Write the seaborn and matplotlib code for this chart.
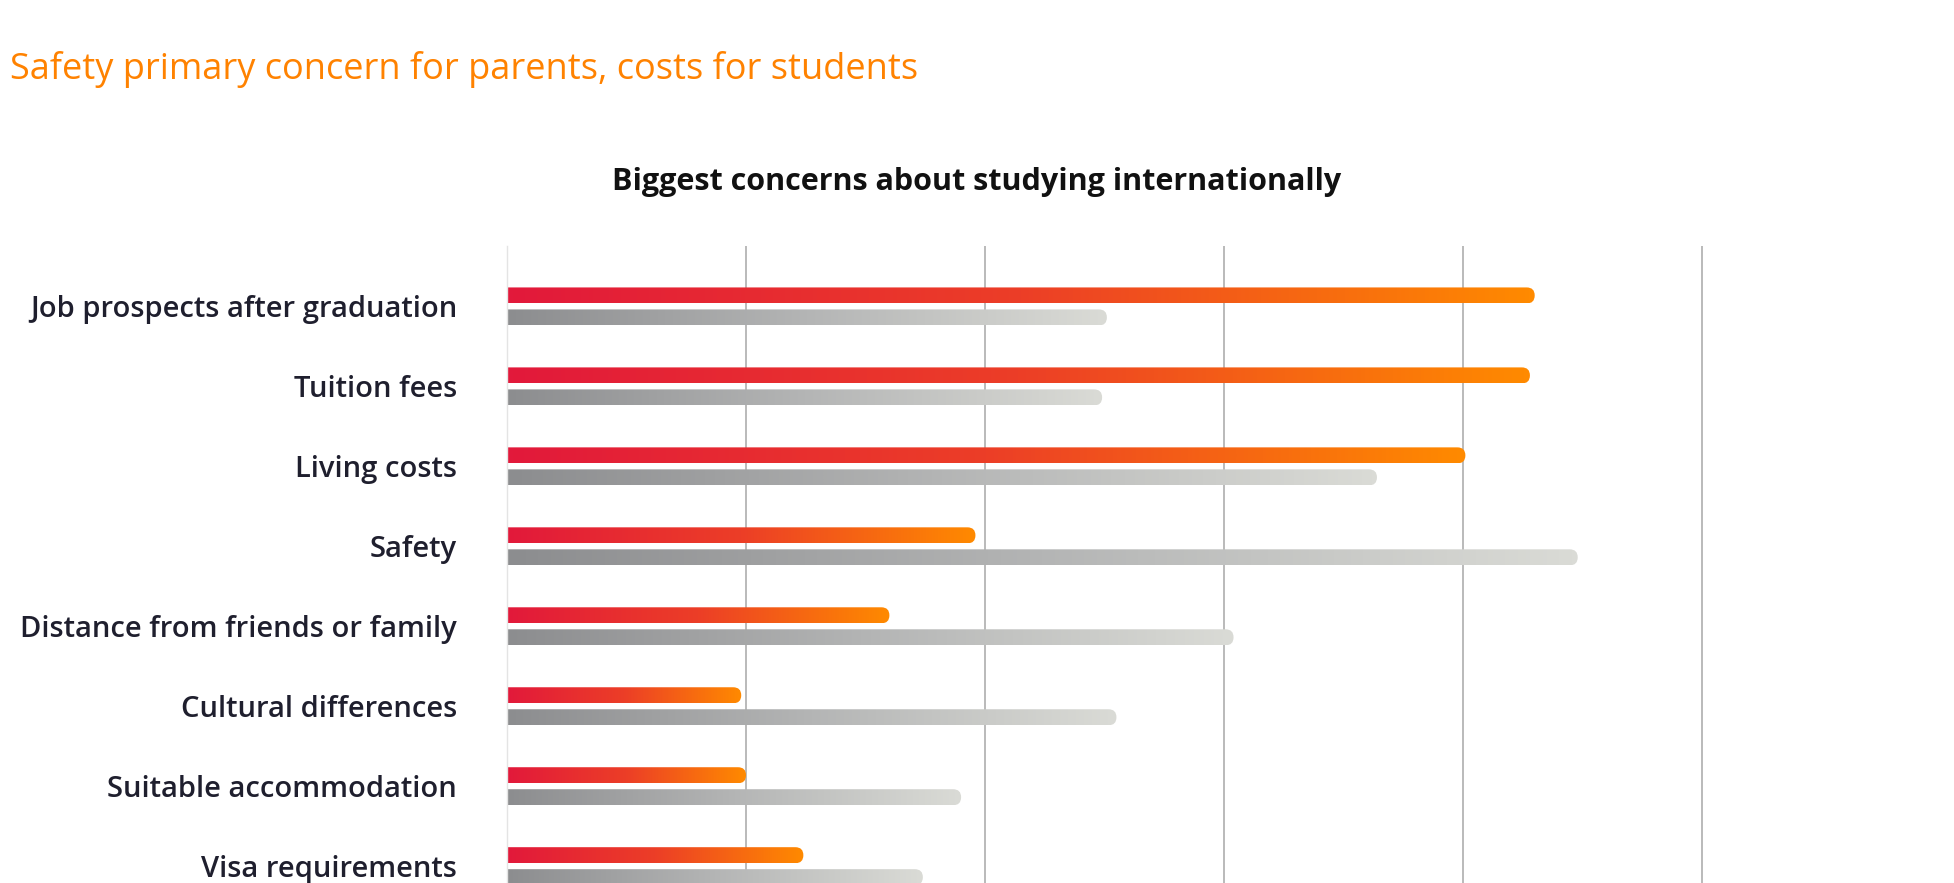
import numpy as np
import pandas as pd
import seaborn as sns
import matplotlib.pyplot as plt
from matplotlib.colors import LinearSegmentedColormap
from matplotlib.patches import FancyBboxPatch

# values (percent of respondents)
concerns = [
    "Job prospects after graduation",
    "Tuition fees",
    "Living costs",
    "Safety",
    "Distance from friends or family",
    "Cultural differences",
    "Suitable accommodation",
    "Visa requirements",
]
students = [43.0, 42.8, 40.1, 19.6, 16.0, 9.8, 10.0, 12.4]
parents = [25.1, 24.9, 36.4, 44.8, 30.4, 25.5, 19.0, 17.4]
groups = ["Students", "Parents"]

df = pd.DataFrame({
    "concern": concerns * 2,
    "share": students + parents,
    "group": [groups[0]] * len(concerns) + [groups[1]] * len(concerns),
})

sns.set_style("white")
plt.rcParams["font.family"] = ["Open Sans", "DejaVu Sans"]

W, H = 1954, 883
fig = plt.figure(figsize=(W / 100, H / 100), dpi=100)
ax = fig.add_axes([507 / W, 0, 1242.8 / W, 1 - 246 / H])

palette = {"Students": "#FF8A00", "Parents": "#8C8D8F"}
sns.barplot(data=df, y="concern", x="share", hue="group", orient="h",
            palette=palette, saturation=1, width=0.55, gap=0.27,
            legend=False, ax=ax)

xlim = (0, 52)
ylim = (7.21, -0.756)
ax.set_xlim(*xlim)
ax.set_ylim(*ylim)

bb = ax.get_window_extent()
px_x = bb.width / (xlim[1] - xlim[0])
px_y = bb.height / abs(ylim[0] - ylim[1])
m_aspect = px_x / px_y

cmaps = {
    "Students": LinearSegmentedColormap.from_list("st", ["#E2193B", "#EC3E27", "#FF8A00"]),
    "Parents": LinearSegmentedColormap.from_list("pa", ["#8C8D8F", "#B4B5B5", "#DADBD6"]),
}
grad = np.linspace(0, 1, 256).reshape(1, -1)

for p in list(ax.patches):
    x0, w = p.get_x(), p.get_width()
    y0, h = p.get_y(), p.get_height()
    yc = y0 + h / 2
    # upper bar of each pair (offset below the category centre) is students
    key = "Students" if yc < round(yc) else "Parents"
    p.set_visible(False)
    r = 0.499 * abs(h) / m_aspect
    clip = FancyBboxPatch((x0 - r, y0), w + r, h,
                          boxstyle=f"round,pad=0,rounding_size={r}",
                          mutation_aspect=m_aspect, transform=ax.transData,
                          facecolor="none", edgecolor="none")
    ax.add_patch(clip)
    im = ax.imshow(grad, cmap=cmaps[key], extent=(x0, x0 + w, y0 + h, y0),
                   aspect="auto", interpolation="bilinear", zorder=2)
    im.set_clip_path(clip)

ax.set_xlim(*xlim)
ax.set_ylim(*ylim)

ax.set_xticks([10, 20, 30, 40, 50])
ax.set_xticklabels([])
ax.grid(axis="x", color="#B4B4B4", linewidth=1.3)
ax.grid(axis="y", visible=False)
ax.set_axisbelow(True)
ax.tick_params(axis="x", length=0)
ax.tick_params(axis="y", length=0, pad=36, labelsize=21, labelcolor="#1F1F2E")
for lbl in ax.get_yticklabels():
    lbl.set_fontweight("semibold")
    lbl.set_verticalalignment("center_baseline")
ax.set_xlabel("")
ax.set_ylabel("")
for s in ["top", "right", "bottom"]:
    ax.spines[s].set_visible(False)
ax.spines["left"].set_color("#E4E4E4")
ax.spines["left"].set_linewidth(1.0)

fig.text(10 / W, 1 - 69 / H, "Safety primary concern for parents, costs for students",
         color="#FF8200", fontsize=26, fontweight="normal", ha="left", va="center")
fig.text(0.5, 1 - 182 / H, "Biggest concerns about studying internationally",
         color="#111111", fontsize=22, fontweight="bold", ha="center", va="center")

fig.savefig("out.png", dpi=100)
